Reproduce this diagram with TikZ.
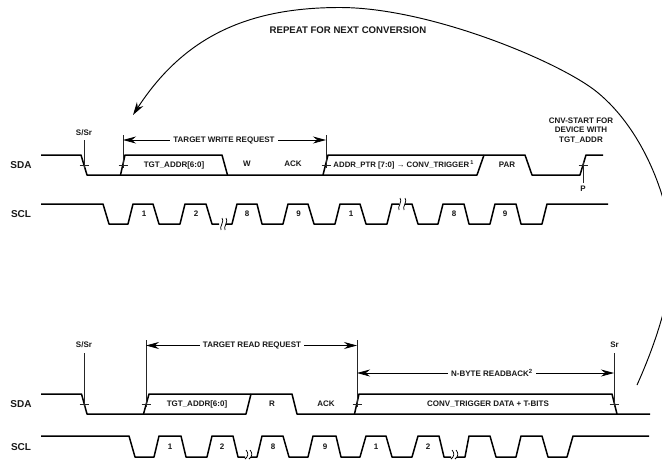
\documentclass[tikz,border=0pt]{standalone}
\usepackage{fontspec}
\setmainfont{Liberation Sans}
\usetikzlibrary{arrows.meta}
\tikzset{
  wave/.style={line width=1.5pt,line join=round,line cap=butt,draw=black},
  guide/.style={line width=0.6pt,draw=black!85},
  dimline/.style={line width=0.75pt,draw=black,{Stealth[length=13pt,width=7pt]}-{Stealth[length=13pt,width=7pt]}},
  lbl/.style={font=\fontsize{8}{9.5}\selectfont\bfseries,inner sep=0pt,align=center,text=black!90},
  sig/.style={font=\fontsize{10}{11}\selectfont\bfseries,inner sep=0pt,text=black!90},
  dimlbl/.style={lbl,fill=white,inner xsep=3pt,inner ysep=1pt},
  brk/.style={line width=0.75pt,draw=black}
}
\newcommand{\tickat}[3]{\draw[guide] (#1-4.5,#2) -- (#1+4.5,#2);}
\begin{document}
\begin{tikzpicture}[x=1pt,y=-1pt]
\useasboundingbox (0,0) rectangle (662,459);
\fill[white] (0,0) rectangle (662,459);
% loop arrow
\begin{scope}
\clip (0,0) rectangle (662,459);
\draw[line width=0.95pt,-{Stealth[length=13pt,width=7.5pt]}] (637,385) .. controls (655,345) and (672,295) .. (672,255) .. controls (672,205) and (645,131) .. (597,92) .. controls (560,62) and (430,7.5) .. (340,7.5) .. controls (250,7.5) and (185,35) .. (133,115);
\end{scope}
\node[lbl,font=\fontsize{9.6}{11}\selectfont\bfseries] (repeat) at (348,30.5) {REPEAT FOR NEXT CONVERSION};
% top SDA
\node[sig] (sda1) at (21,165) {SDA};
\node[sig] (scl1) at (21,214) {SCL};
\draw[wave] (41,155) -- (81,155) -- (87,175) -- (477,175) -- (484,155);
\draw[wave] (120.5,175) -- (125,155) -- (222,155) -- (227.5,175);
\draw[wave] (323,175) -- (328,155) -- (525,155) -- (532,175) -- (580,175) -- (586,155) -- (603,155);
% top SCL
\draw[wave] (41,204) -- (103,204) -- (109,224) -- (128,224) -- (133,204) -- (153,204) -- (159,224) -- (180,224) -- (185,204) -- (206,204) -- (212,224) -- (219,224);
\draw[wave] (226,224) -- (232,224) -- (237,204) -- (257,204) -- (262,224) -- (283,224) -- (288,204) -- (308,204) -- (314,224) -- (335,224) -- (340,204) -- (360,204) -- (366,224) -- (387,224) -- (392,204) -- (399,204);
\draw[wave] (405,204) -- (412,204) -- (418,224) -- (438,224) -- (443,204) -- (464,204) -- (469,224) -- (490,224) -- (495,204) -- (516,204) -- (521,224) -- (542,224) -- (547,204) -- (608,204);
\draw[brk] (222,218) .. controls (225,221) and (219,227) .. (221,230);
\draw[brk] (226,218) .. controls (229,221) and (223,227) .. (225,230);
\draw[brk] (400,198) .. controls (403,201) and (397,207) .. (399,210);
\draw[brk] (405,198) .. controls (408,201) and (402,207) .. (404,210);
% top guides
\coordinate (g1a) at (84,140); \coordinate (g1b) at (84,168);
\coordinate (g2a) at (123,135); \coordinate (g2b) at (123,168);
\coordinate (g3a) at (326,135); \coordinate (g3b) at (326,168);
\coordinate (g4a) at (583,162); \coordinate (g4b) at (583,183);
\draw[guide] (g1a) -- (g1b); \draw[guide] (g2a) -- (g2b); \draw[guide] (g3a) -- (g3b); \draw[guide] (g4a) -- (g4b);
\tickat{84}{165}{}\tickat{123}{165}{}\tickat{326}{165}{}\tickat{583}{165}{}
\draw[dimline] (123,140) -- (326,140);
\node[dimlbl] (twr) at (224,140) {TARGET WRITE REQUEST};
\node[lbl] (ss1) at (84,133) {S/Sr};
\node[lbl] (p1) at (583,189) {P};
\node[lbl] (a1) at (174,165) {TGT\_ADDR[6:0]};
\node[lbl] (w1) at (247,163.5) {W};
\node[lbl] (ack1) at (293,163.5) {ACK};
\node[lbl,font=\fontsize{7.8}{9.5}\selectfont\bfseries] (ptr) at (403.5,165) {ADDR\_PTR [7:0] {\mdseries\fontspec{Liberation Sans}→} CONV\_TRIGGER\,\raisebox{3pt}{\fontsize{5.5}{5.5}\selectfont 1}};
\node[lbl] (par) at (507,165) {PAR};
\node[lbl] (cnv) at (581,130.5) {CNV-START FOR\\DEVICE WITH\\TGT\_ADDR};
\foreach \n/\x/\t in {a/144/1,b/196/2,c/247/8,d/298.5/9,e/351/1,f/454/8,g/505/9}
  \node[lbl] (u\n) at (\x,213.5) {\t};
% bottom SDA
\node[sig] (sda2) at (21,404) {SDA};
\node[sig] (scl2) at (21,447) {SCL};
\draw[wave] (41,394) -- (81.5,394) -- (87,414) -- (246,414) -- (251,394);
\draw[wave] (143.5,414) -- (149,394) -- (292,394) -- (297,414) -- (650,414);
\draw[wave] (354.5,414) -- (359,394) -- (612,394) -- (617,414);
% bottom SCL
\draw[wave] (41,436) -- (129,436) -- (135,457) -- (154,457) -- (159,436) -- (181,436) -- (186,457) -- (207,457) -- (212,436) -- (233,436) -- (238,457) -- (245,457);
\draw[wave] (251,457) -- (257,457) -- (262,436) -- (283,436) -- (289,457) -- (308,457) -- (313,436) -- (336,436) -- (341,457) -- (360,457) -- (366,436) -- (386,436) -- (392,457) -- (412,457) -- (418,436) -- (439,436) -- (444,457) -- (451,457);
\draw[wave] (457,457) -- (465,457) -- (469,436) -- (490,436) -- (496,457) -- (516,457) -- (521,436) -- (542,436) -- (548,457) -- (567,457) -- (573,436) -- (649,436);
\draw[brk] (246,450) .. controls (249,453) and (248,457) .. (245,459);
\draw[brk] (250,450) .. controls (253,453) and (252,457) .. (249,459);
\draw[brk] (452,450) .. controls (455,453) and (454,457) .. (451,459);
\draw[brk] (456,450) .. controls (459,453) and (458,457) .. (455,459);
% bottom guides
\coordinate (h1a) at (84,353); \coordinate (h1b) at (84,407);
\coordinate (h2a) at (146,340); \coordinate (h2b) at (146,407);
\coordinate (h3a) at (357,340); \coordinate (h3b) at (357,407);
\coordinate (h4a) at (614,353); \coordinate (h4b) at (614,407);
\draw[guide] (h1a) -- (h1b); \draw[guide] (h2a) -- (h2b); \draw[guide] (h3a) -- (h3b); \draw[guide] (h4a) -- (h4b);
\tickat{84}{404}{}\tickat{146}{404}{}\tickat{357}{404}{}\tickat{614}{404}{}
\draw[dimline] (146,345.5) -- (357,345.5);
\node[dimlbl] (trr) at (252,345.5) {TARGET READ REQUEST};
\draw[dimline] (357,373) -- (614,373);
\node[dimlbl] (nby) at (492,373) {N-BYTE READBACK\textsuperscript{2}};
\node[lbl] (ss2) at (84,345) {S/Sr};
\node[lbl] (sr2) at (614.5,345) {Sr};
\node[lbl] (a2) at (197,404) {TGT\_ADDR[6:0]};
\node[lbl] (r2) at (272,404) {R};
\node[lbl] (ack2) at (326,404) {ACK};
\node[lbl] (conv) at (488,404) {CONV\_TRIGGER DATA + T-BITS};
\foreach \n/\x/\t in {a/170/1,b/222/2,c/273/8,d/325/9,e/376/1,f/428/2}
  \node[lbl] (v\n) at (\x,447) {\t};
\end{tikzpicture}
\end{document}
